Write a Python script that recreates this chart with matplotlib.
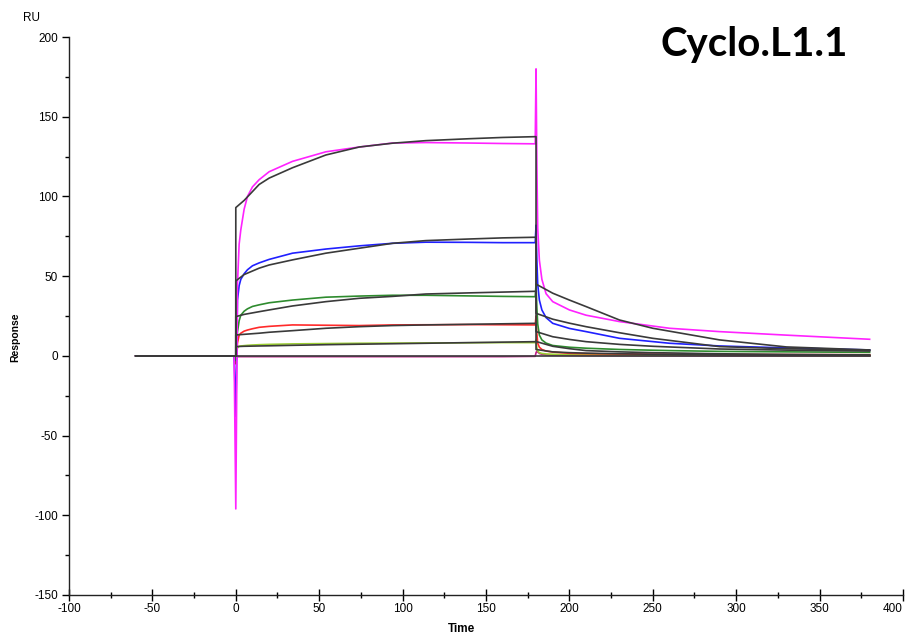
import matplotlib
matplotlib.use("Agg")
import matplotlib.pyplot as plt
from matplotlib.ticker import MultipleLocator
import numpy as np

plt.rcParams['axes.unicode_minus'] = False

# ---- data (sensorgram) ----
T_DATA = [-60, -1, 0, 0.5, 1, 2, 3, 5, 7, 10, 14, 20, 34, 54, 74, 94, 114, 140, 160,
          179.5, 180, 180.5, 181, 182, 183.5, 186, 190, 200, 210, 230, 260, 290, 330, 380]

r_magenta = [0, 0, -96, -30, 45, 70, 79, 92, 100, 106, 110.5, 115.5, 122, 128, 131, 133.5, 133.8, 133.5, 133.2,
             133, 180, 120, 80, 60, 48, 39, 34, 28.8, 25.5, 21.5, 17.3, 15.2, 13, 10.4]
r_blue = [0, 0, -38, -5, 35, 44, 48, 51.5, 54, 56.5, 58.3, 60.5, 64.4, 67, 69, 70.6, 71.3, 71.2, 71,
          71, 82, 60, 45, 35, 28.8, 24, 20.4, 17.2, 15.2, 11, 7.9, 6.2, 5, 3.7]
r_green = [0, 0, -3, 5, 15, 22, 25.5, 28, 29.5, 31, 32, 33.3, 35, 36.8, 37.5, 38, 38, 37.6, 37.3,
           37.1, 45, 30, 20, 13, 10, 8, 6.5, 5.4, 4.8, 4, 3.3, 2.8, 2.5, 2.2]
r_red = [0, 0, -5, 0, 8, 13, 14.2, 15.5, 16.2, 17, 17.9, 18.5, 19.4, 19.2, 19, 19.4, 19.5, 19.6, 19.5,
         19.4, 25, 14, 8, 5.4, 4, 3, 2.4, 1.6, 1.4, 1.2, 1.0, 0.9, 0.8, 0.7]
r_yellow = [0, 0, -2, 2, 5, 6, 6.2, 6.4, 6.6, 6.8, 7, 7.2, 7.5, 7.7, 7.9, 8, 8.1, 8.2, 8.3,
            8.3, 10, 5, 3, 2, 1.5, 1.2, 1, 0.8, 0.7, 0.6, 0.5, 0.4, 0.35, 0.3]
r_zero = [0, 0, -2, -1, -0.5, -0.5, -0.5, -0.5, -0.5, -0.5, -0.5, -0.5, -0.5, -0.5, -0.5, -0.5, -0.5, -0.5, -0.5,
          -0.3, 2, 3, 2.5, 1.5, 1, 0.6, 0.4, 0.3, 0.2, 0.1, 0.1, 0, 0, 0]

# fitted curves (black)
T_FIT = [-60, 0, 0, 5, 14, 20, 34, 54, 74, 94, 114, 140, 160, 180, 180, 190, 200, 210, 230, 250, 290, 330, 380]
f_magenta = [0, 0, 93, 97.5, 107.5, 111.5, 118, 126, 131, 133.4, 135, 136.2, 137, 137.5,
             45, 39.3, 35, 30.9, 22.5, 17.3, 10, 5.6, 3.7]
f_blue = [0, 0, 47, 51, 55, 57, 60.2, 64.4, 67.5, 70.6, 72.3, 73.3, 74, 74.4,
          26.7, 23, 20.5, 18.3, 14.5, 11, 5.8, 4.5, 3.5]
f_green = [0, 0, 24.6, 26, 27.7, 28.8, 31.3, 34, 36.1, 37.3, 38.8, 39.5, 40, 40.5,
           15.2, 12, 10.3, 8.9, 7.2, 6, 4.3, 3.6, 3.0]
f_red = [0, 0, 13.1, 13.5, 14.2, 14.8, 15.8, 17.3, 18.3, 19, 19.4, 19.8, 20.1, 20.4,
         9, 6, 4.5, 3.3, 2.5, 2, 1.3, 0.9, 0.6]
f_yellow = [0, 0, 5.8, 6, 6.2, 6.3, 6.6, 7, 7.3, 7.6, 7.9, 8.3, 8.6, 8.9,
            4, 2.5, 2, 1.7, 1.3, 1, 0.6, 0.4, 0.3]
f_zero = [0, 0, 0, 0, 0, 0, 0, 0, 0, 0, 0, 0, 0, 0, 0, 0, 0, 0, 0, 0, 0, 0, 0]

X_TICKS = list(range(-100, 401, 50))
Y_TICKS = list(range(-150, 201, 50))

# ---- figure ----
fig = plt.figure(figsize=(9.09, 6.36), dpi=100)
ax = fig.add_axes([0.0759, 0.0645, 0.9175, 0.8773])

data_series = [
    (r_zero, '#c0208a'),
    (r_yellow, '#9acd32'),
    (r_red, '#ff2a2a'),
    (r_green, '#2e8b2e'),
    (r_blue, '#2020ff'),
    (r_magenta, '#ff22ff'),
]
for vals, col in data_series:
    ax.plot(T_DATA, vals, color=col, lw=1.2, zorder=2)

for vals in [f_zero, f_yellow, f_red, f_green, f_blue, f_magenta]:
    ax.plot(T_FIT, vals, color='#3a3a3a', lw=1.2, zorder=3)

ax.set_xlim(-100, 400)
ax.set_ylim(-150, 200)
ax.set_xticks(X_TICKS)
ax.set_yticks(Y_TICKS)
ax.xaxis.set_minor_locator(MultipleLocator(25))
ax.yaxis.set_minor_locator(MultipleLocator(25))

for s in ['top', 'right']:
    ax.spines[s].set_visible(False)
for s in ['left', 'bottom']:
    ax.spines[s].set_linewidth(1.0)
    ax.spines[s].set_color('#222222')

tick_font = ['Liberation Sans Narrow', 'Liberation Sans', 'DejaVu Sans']
ax.tick_params(axis='x', which='major', direction='inout', length=8, width=1, labelsize=8.5, pad=2)
ax.tick_params(axis='x', which='minor', direction='inout', length=4, width=1)
ax.tick_params(axis='y', which='major', direction='out', length=5, width=1, labelsize=8.5, pad=3)
ax.tick_params(axis='y', which='minor', direction='out', length=3, width=1)
for lab in ax.get_xticklabels() + ax.get_yticklabels():
    lab.set_family(tick_font)
# keep the last x label inside the canvas
ax.get_xticklabels()[-1].set_horizontalalignment('right')

fig.text(0.035, 0.972, 'RU', fontsize=8.5, family=tick_font, ha='center', va='center')
fig.text(0.0165, 0.47, 'Response', fontsize=7.5, fontweight='bold', family=tick_font,
         rotation=90, ha='center', va='center')
fig.text(0.508, 0.011, 'Time', fontsize=8.5, fontweight='bold', family=tick_font,
         ha='center', va='center')
fig.text(0.830, 0.930, 'Cyclo.L1.1', fontsize=29, fontweight='bold',
         family=['Lato', 'DejaVu Sans'], ha='center', va='center')

fig.savefig('out.png', dpi=100)
